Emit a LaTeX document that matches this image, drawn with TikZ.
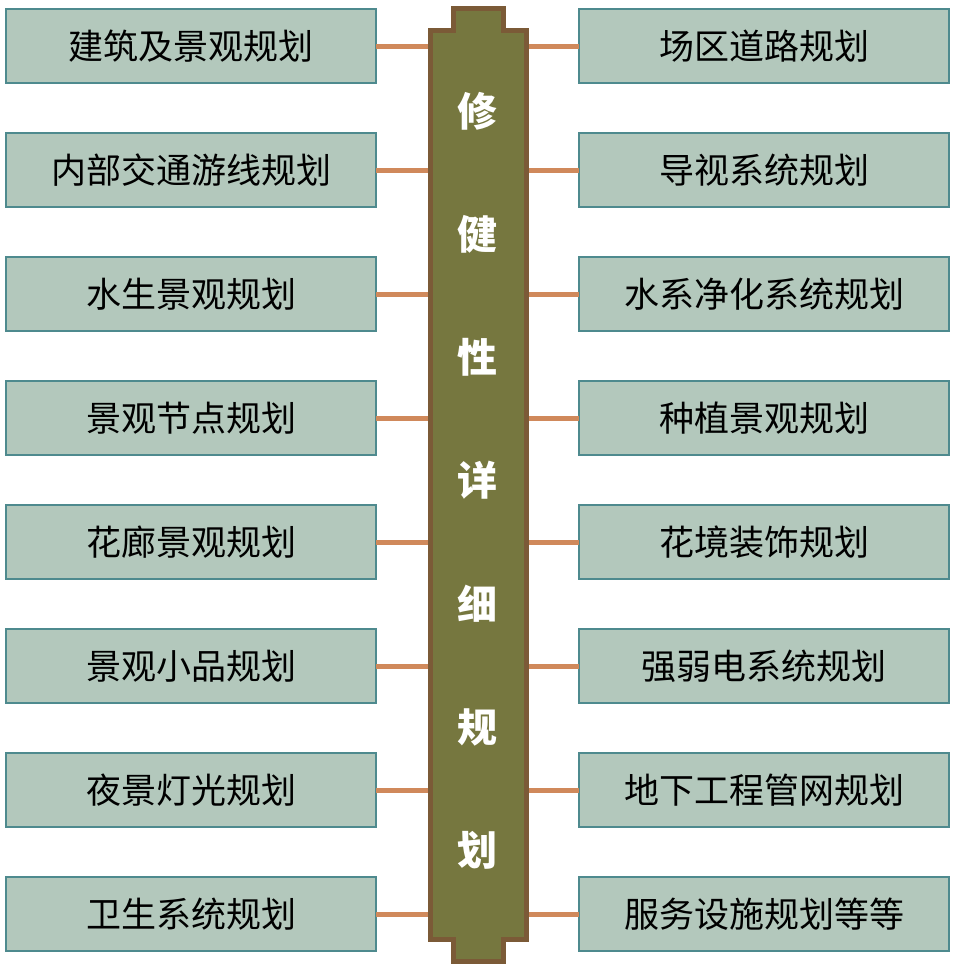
\documentclass[tikz,border=0pt]{standalone}
\usepackage{fontspec}
\newfontfamily\cjk{Noto Sans CJK SC}
\usetikzlibrary{positioning, calc}
\definecolor{boxfill}{HTML}{B3C8BC}
\definecolor{boxline}{HTML}{4E8A8E}
\definecolor{pillarfill}{HTML}{76773F}
\definecolor{pillarline}{HTML}{7B5A37}
\definecolor{linkcol}{HTML}{D0895B}
\tikzstyle{planbox} = [draw=boxline, line width=2pt, fill=boxfill, minimum height=74pt, minimum width=370pt, inner sep=0, outer sep=0, align=center, font=\cjk\fontsize{35}{40}\selectfont]
\tikzstyle{pillartext} = [text=white, font=\cjk\bfseries\fontsize{40}{44}\selectfont]
\tikzstyle{link} = [draw=linkcol, line width=5pt]

\begin{document}
\begin{tikzpicture}[x=1pt, y=-1pt]
        \useasboundingbox (0,0) rectangle (956,969);
        % central pillar
        \draw[line width=5pt, draw=pillarline, fill=pillarfill]
            (453,8) -- (503,8) -- (503,30) -- (526,30) -- (526,939) -- (503,939) -- (503,961)
            -- (453,961) -- (453,939) -- (430,939) -- (430,30) -- (453,30) -- cycle;
        \node[minimum width=96pt, minimum height=909pt, inner sep=0, outer sep=2.5pt] (pillar) at (478,484.5) {};
        \foreach \ch [count=\i from 0] in {修,健,性,详,细,规,划}
            \node[pillartext] (title\i) at (477,111+123.2*\i) {\ch};

        % left column
        \node[planbox] (l1) at (191,46) {建筑及景观规划};
        \node[planbox, below=50pt of l1] (l2) {内部交通游线规划};
        \node[planbox, below=50pt of l2] (l3) {水生景观规划};
        \node[planbox, below=50pt of l3] (l4) {景观节点规划};
        \node[planbox, below=50pt of l4] (l5) {花廊景观规划};
        \node[planbox, below=50pt of l5] (l6) {景观小品规划};
        \node[planbox, below=50pt of l6] (l7) {夜景灯光规划};
        \node[planbox, below=50pt of l7] (l8) {卫生系统规划};

        % right column
        \node[planbox] (r1) at (764,46) {场区道路规划};
        \node[planbox, below=50pt of r1] (r2) {导视系统规划};
        \node[planbox, below=50pt of r2] (r3) {水系净化系统规划};
        \node[planbox, below=50pt of r3] (r4) {种植景观规划};
        \node[planbox, below=50pt of r4] (r5) {花境装饰规划};
        \node[planbox, below=50pt of r5] (r6) {强弱电系统规划};
        \node[planbox, below=50pt of r6] (r7) {地下工程管网规划};
        \node[planbox, below=50pt of r7] (r8) {服务设施规划等等};

        \foreach \i in {1,...,8} {
            \draw[link] (l\i.east) -- (l\i.east -| pillar.west);
            \draw[link] (r\i.west) -- (r\i.west -| pillar.east);
        }
    \end{tikzpicture}
\end{document}
